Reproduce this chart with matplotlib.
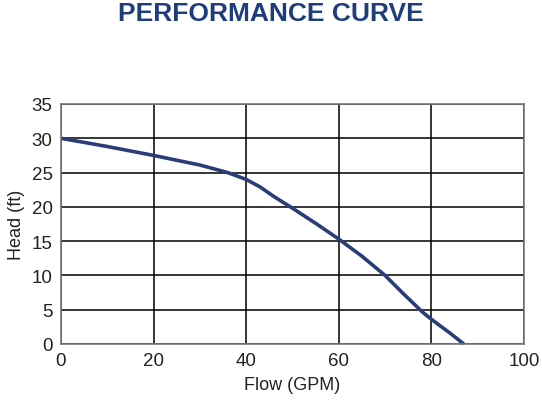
import matplotlib.pyplot as plt

plt.rcParams['font.family'] = ['Liberation Sans', 'DejaVu Sans']

# points
flow = [0, 10, 20, 30, 36, 40, 43, 46, 50, 55, 60, 65, 70, 74, 78, 80, 84, 87]
head = [30, 28.8, 27.5, 26.1, 25.0, 24.0, 22.9, 21.5, 19.8, 17.6, 15.3, 12.8, 10.0, 7.3, 4.7, 3.6, 1.6, 0]

x_ticks = [0, 20, 40, 60, 80, 100]
y_ticks = [0, 5, 10, 15, 20, 25, 30, 35]

fig = plt.figure(figsize=(5.42, 4.06), dpi=100)
ax = fig.add_axes([61/542, 1 - 345/406, (524-61)/542, (345-105)/406])

ax.set_xlim(0, 100)
ax.set_ylim(0, 35)
ax.set_xticks(x_ticks)
ax.set_yticks(y_ticks)
ax.grid(True, color='black', linewidth=1.1)
ax.set_axisbelow(True)
for sp in ax.spines.values():
    sp.set_color('#777777')
    sp.set_linewidth(1.2)
ax.tick_params(length=0, labelsize=13.5, colors='#222222', pad=6)

ax.plot(flow, head, color='#2b3d78', linewidth=2.6, solid_capstyle='butt', clip_on=False)

ax.set_xlabel('Flow (GPM)', fontsize=13, color='#222222', labelpad=5)
ax.set_ylabel('Head (ft)', fontsize=13, color='#222222', labelpad=5)

fig.text(0.5, 1 - 14/406, 'PERFORMANCE CURVE', ha='center', va='center',
         fontsize=19, fontweight='bold', color='#1f3c7c')

plt.savefig('out.png', dpi=100)
